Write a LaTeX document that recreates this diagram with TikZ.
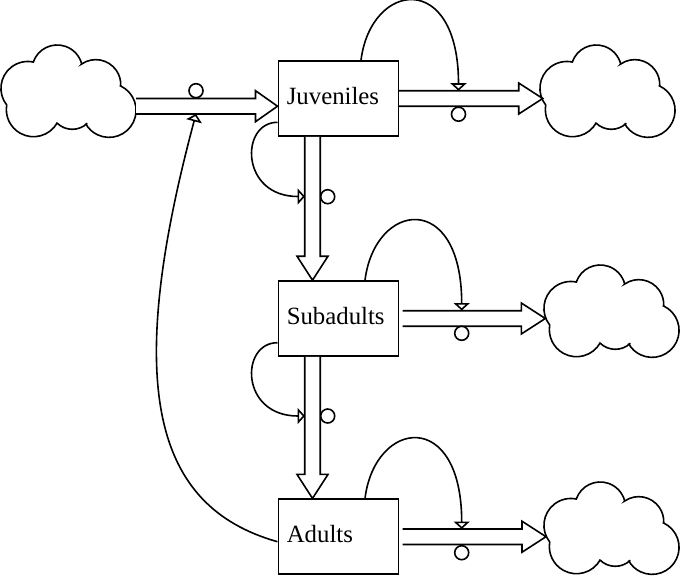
\documentclass[tikz,border=0pt]{standalone}
\usepackage{fontspec}
\setmainfont{Liberation Serif}
\usetikzlibrary{arrows.meta,calc}
\tikzset{
  ln/.style={line width=1.6pt},
  box/.style={ln, draw, fill=white, minimum width=120pt, minimum height=75pt,
    text width=103pt, inner xsep=8.5pt, align=left, text height=11pt, text depth=0pt,
    font=\fontsize{24.8}{30}\selectfont},
  valve/.style={ln, draw, fill=white, circle, minimum size=14pt, inner sep=0pt},
  flowline/.style={ln, draw, fill=white},
  link/.style={ln, -{Triangle[open, length=7.5pt, width=16pt, line join=miter]}},
  cloudpic/.pic={
    \path[ln, draw, fill=white]
      (5.7,-60) arc[start angle=218.2, end angle=78.3, radius=26.9]
      -- (32.3,-17) arc[start angle=160.9, end angle=14.4, radius=25.3]
      -- (80.7,-19) arc[start angle=124.4, end angle=-3.2, radius=24.96]
      -- (119.7,-41) arc[start angle=64.5, end angle=-149.3, radius=27]
      -- (86.3,-78.3) arc[start angle=-46.4, end angle=-134.7, radius=21.75]
      -- (56.3,-77.7) arc[start angle=-29, end angle=-189.5, radius=27.19]
      -- cycle;
  }
}
\newcommand{\flowright}[3]{\path[flowline] ($(#1)+(0,7.75)$) -- ($(#2)+(-#3,7.75)$) -- ($(#2)+(-#3,15.5)$) -- (#2) -- ($(#2)+(-#3,-15.5)$) -- ($(#2)+(-#3,-7.75)$) -- ($(#1)+(0,-7.75)$);}
\newcommand{\flowdown}[3]{\path[flowline] ($(#1)+(-7.75,0)$) -- ($(#2)+(-7.75,#3)$) -- ($(#2)+(-15.5,#3)$) -- (#2) -- ($(#2)+(15.5,#3)$) -- ($(#2)+(7.75,#3)$) -- ($(#1)+(7.75,0)$);}
\begin{document}
\begin{tikzpicture}[x=1pt,y=1pt]
\useasboundingbox (0,0) rectangle (680,-576);
% clouds
\pic (cl0) at (1,-45) {cloudpic};
\pic (cl1) at (540,-45) {cloudpic};
\pic (cl2) at (544,-265) {cloudpic};
\pic (cl3) at (544,-482) {cloudpic};
% stocks
\node[box] (J) at (338.3,-98.5) {Juveniles};
\node[box] (S) at (338.3,-318.5) {Subadults};
\node[box] (A) at (338.3,-536.7) {Adults};
% flow end points
\coordinate (in0) at (136,-106.2);
\coordinate (in1) at ($(J.west)+(0,-7.7)$);
\coordinate (oJ0) at (J.east);
\coordinate (oJ1) at (542.7,-98.5);
\coordinate (oS0) at ($(S.east)+(3.5,0)$);
\coordinate (oS1) at (545.3,-318.5);
\coordinate (oA0) at ($(A.east)+(3.5,0)$);
\coordinate (oA1) at (546,-536.7);
\coordinate (dJ0) at ($(J.south)+(-25.8,0)$);
\coordinate (dJ1) at ($(S.north)+(-25.8,0)$);
\coordinate (dS0) at ($(S.south)+(-25.8,0)$);
\coordinate (dS1) at ($(A.north)+(-25.8,0)$);
% flows
\flowright{in0}{in1}{22}
\flowright{oJ0}{oJ1}{24}
\flowright{oS0}{oS1}{24}
\flowright{oA0}{oA1}{24}
\flowdown{dJ0}{dJ1}{24}
\flowdown{dS0}{dS1}{24}
% valves
\node[valve] (v0) at (196,-90.7) {};
\node[valve] (vJ) at (458.5,-114.2) {};
\node[valve] (vJS) at (327.7,-196.7) {};
\node[valve] (vS) at (461.7,-333.3) {};
\node[valve] (vSA) at (327.7,-416) {};
\node[valve] (vA) at (461.7,-552.7) {};
% connector ends
\coordinate (k0a) at ($(A.west)+(0,-5)$);
\coordinate (k0b) at (196,-114);
\coordinate (kJa) at ($(J.north)+(22.7,0)$);
\coordinate (kJb) at (458.5,-90.7);
\coordinate (kJSa) at ($(J.west)+(0,-23.8)$);
\coordinate (kJSb) at (305,-196.5);
\coordinate (kSa) at ($(S.north)+(26.7,0)$);
\coordinate (kSb) at (461.7,-310.5);
\coordinate (kSAa) at ($(S.west)+(0,-24.2)$);
\coordinate (kSAb) at (305,-416);
\coordinate (kAa) at ($(A.north)+(26.7,0)$);
\coordinate (kAb) at (461.7,-529);
% connectors
\draw[link] (k0a) .. controls (153,-506.6) and (123.2,-385.6) .. (k0b);
\draw[link] (kJa) .. controls (371,19) and (458.5,30) .. (kJb);
\draw[link] (kSa) .. controls (375,-201) and (461.7,-190) .. (kSb);
\draw[link] (kAa) .. controls (375,-419) and (461.7,-408) .. (kAb);
\draw[link] (kJSa) .. controls (240,-122.3) and (240,-196.5) .. (kJSb);
\draw[link] (kSAa) .. controls (240,-342.7) and (240,-416) .. (kSAb);
\end{tikzpicture}
\end{document}
